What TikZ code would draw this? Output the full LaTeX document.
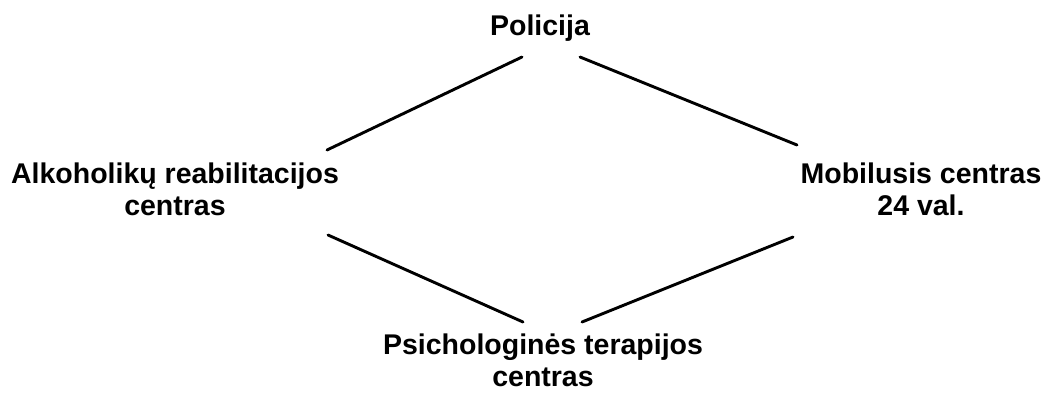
\documentclass[tikz,border=0pt]{standalone}
\usepackage{fontspec}
\setmainfont{Liberation Sans}
\begin{document}
\begin{tikzpicture}[x=1pt,y=-1pt,
  lbl/.style={font=\bfseries\fontsize{28.5}{32}\selectfont, inner sep=0pt, align=center, anchor=base},
  link/.style={line width=2.9pt, line cap=round}]
\useasboundingbox[fill=white] (0,0) rectangle (1048,392);
\node[lbl] (pol) at (540,35) {Policija};
\node[lbl] (alk) at (175,215) {Alkoholikų reabilitacijos\\centras};
\node[lbl] (mob) at (921,215) {Mobilusis centras\\24 val.};
\node[lbl] (psi) at (543,386) {Psichologinės terapijos\\centras};
\coordinate (polL) at (522,57);
\coordinate (polR) at (580,57);
\coordinate (alkT) at (327,150);
\coordinate (alkB) at (328,235);
\coordinate (mobT) at (797,145);
\coordinate (mobB) at (793,237);
\coordinate (psiL) at (523,322);
\coordinate (psiR) at (582,322);
\draw[link] (polL) -- (alkT);
\draw[link] (polR) -- (mobT);
\draw[link] (alkB) -- (psiL);
\draw[link] (psiR) -- (mobB);
\end{tikzpicture}
\end{document}
